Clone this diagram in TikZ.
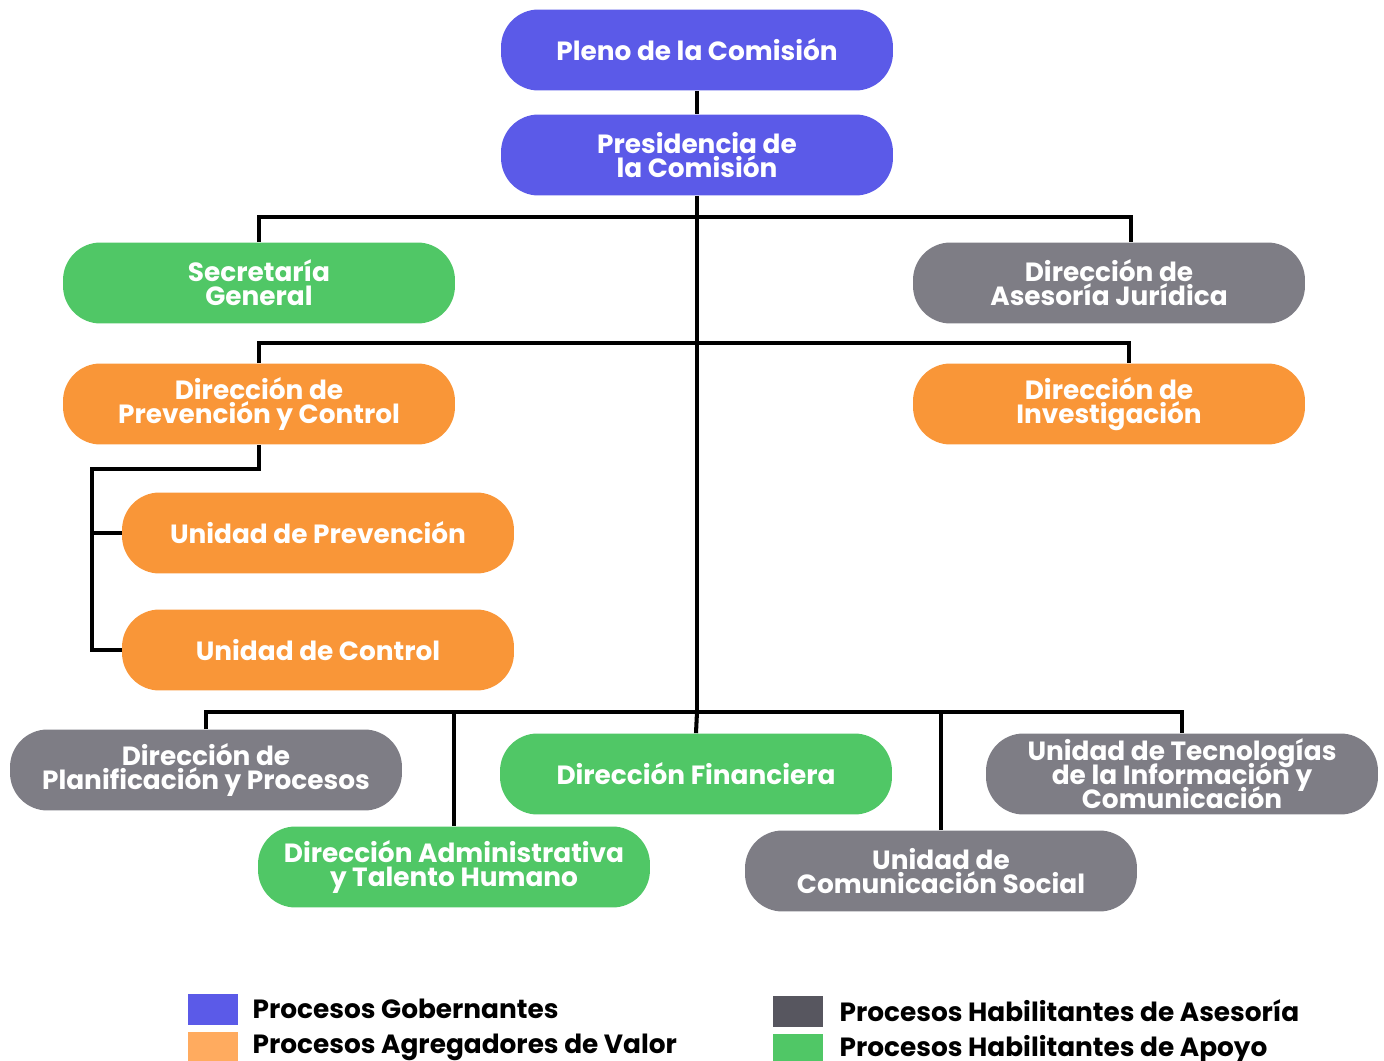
\documentclass[tikz,border=0pt]{standalone}
\usepackage{fontspec}
\setmainfont{Poppins}
\usetikzlibrary{positioning}

\definecolor{gobblue}{HTML}{5B5AE8}
\definecolor{valorange}{HTML}{F99638}
\definecolor{asegrey}{HTML}{7E7D85}
\definecolor{apogreen}{HTML}{50C766}
\definecolor{legorange}{HTML}{FFAB5F}
\definecolor{leggrey}{HTML}{57565F}

\newcommand{\unitfont}{\bfseries\fontsize{15}{13.6}\selectfont\lineskiplimit=-20pt\relax}

\tikzset{
  unit/.style={rounded corners=0.75cm, minimum width=7.84cm, minimum height=1.62cm,
    inner sep=0pt, align=center, text=white, font=\unitfont},
  link/.style={line width=2.3pt, black},
  legsq/.style={minimum width=1cm, minimum height=0.62cm, inner sep=0pt},
  legtext/.style={font=\bfseries\fontsize{15}{17}\selectfont, inner sep=0pt, anchor=west}
}

\begin{document}
\begin{tikzpicture}[x=0.02cm, y=-0.02cm]
  \useasboundingbox (0,0) rectangle (1384,1061);

  % governing level
  \node[unit, fill=gobblue] (pleno) at (697,50) {Pleno de la Comisión};
  \node[unit, fill=gobblue] (pres) at (697,155) {Presidencia de\\la Comisión};

  % advisory and support under presidency
  \node[unit, fill=apogreen] (secgen) at (259,283) {Secretaría\\General};
  \node[unit, fill=asegrey] (asejur) at (1109,283) {Dirección de\\Asesoría Jurídica};

  % value adding
  \node[unit, fill=valorange] (dprev) at (259,404) {Dirección de\\Prevención y Control};
  \node[unit, fill=valorange] (dinv) at (1109,404) {Dirección de\\Investigación};
  \node[unit, fill=valorange] (uprev) at (318,533) {Unidad de Prevención};
  \node[unit, fill=valorange] (uctrl) at (318,650) {Unidad de Control};

  % bottom row
  \node[unit, fill=asegrey] (dplan) at (206,770) {Dirección de\\Planificación y Procesos};
  \node[unit, fill=apogreen] (dfin) at (696,774) {Dirección Financiera};
  \node[unit, fill=asegrey] (utic) at (1182,774) {Unidad de Tecnologías\\de la Información y\\Comunicación};
  \node[unit, fill=apogreen] (dadm) at (454,867) {Dirección Administrativa\\y Talento Humano};
  \node[unit, fill=asegrey] (ucom) at (941,871) {Unidad de\\Comunicación Social};

  % junctions
  \coordinate (j1) at (1131,217);
  \coordinate (j2) at (1129,343);
  \coordinate (p1) at (92,469);
  \coordinate (t3) at (697,712);

  % connectors
  \draw[link] (pleno.south) -- (pres.north);
  \draw[link] (pres.south) -- (t3);
  \draw[link] (secgen.north) |- (j1) -- (j1 |- asejur.north);
  \draw[link] (dprev.north) |- (j2) -- (j2 |- dinv.north);
  \draw[link] (dprev.south) |- (p1) |- (uctrl.west);
  \draw[link] (p1 |- uprev.west) -- (uprev.west);
  \draw[link] (dplan.north) |- (t3) -| (utic.north);
  \draw[link] (t3) -- (dfin.north);
  \draw[link] (dadm.north) -- (dadm.north |- t3);
  \draw[link] (ucom.north) -- (ucom.north |- t3);

  % legend
  \node[legsq, fill=gobblue] (lgob) at (213,1009) {};
  \node[legsq, fill=legorange] (lval) at (213,1047) {};
  \node[legsq, fill=leggrey] (lase) at (798,1011) {};
  \node[legsq, fill=apogreen] (lapo) at (798,1049) {};
  \node[legtext, right=0.28cm of lgob] (tgob) {Procesos Gobernantes};
  \node[legtext, right=0.28cm of lval] (tval) {Procesos Agregadores de Valor};
  \node[legtext, right=0.32cm of lase] (tase) {Procesos Habilitantes de Asesoría};
  \node[legtext, right=0.32cm of lapo] (tapo) {Procesos Habilitantes de Apoyo};
\end{tikzpicture}
\end{document}
